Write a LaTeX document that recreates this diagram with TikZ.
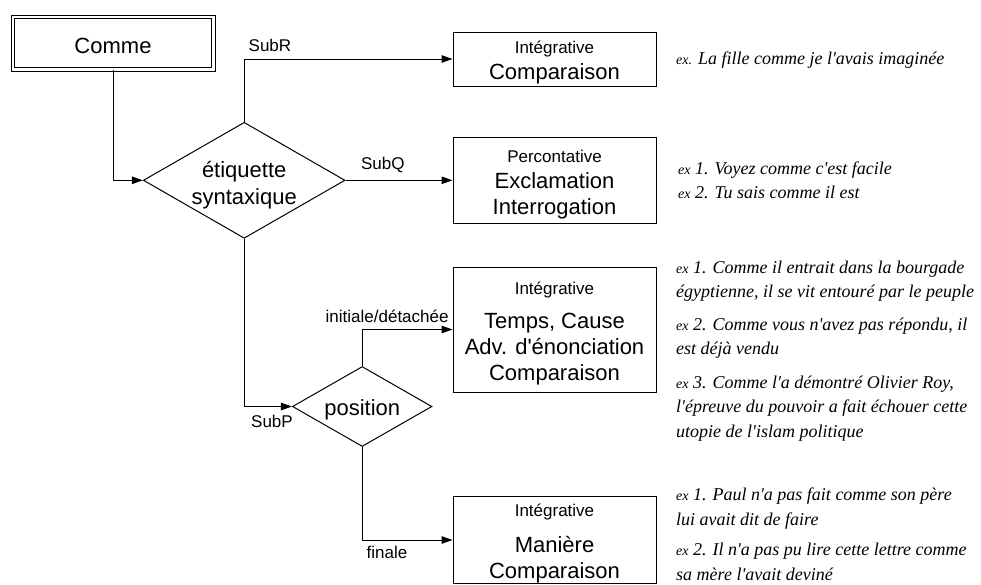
\documentclass[tikz,border=0pt]{standalone}
\usepackage{fontspec}
\setmainfont{Liberation Serif}[Ligatures=TeXOff]
\setsansfont{Liberation Sans}[Ligatures=TeXOff]
\usetikzlibrary{arrows.meta,positioning,shapes.geometric}
\newcommand{\haut}[1][20.3pt]{\rule{0pt}{#1}}
\newcommand{\exm}{\fontsize{14}{17}\selectfont}
\newcommand{\petit}{\fontsize{17}{20}\selectfont}
\tikzset{
  boite/.style={draw,line width=1pt,minimum width=203,inner sep=0pt,align=center,
    font=\sffamily\fontsize{22}{26}\selectfont},
  losange/.style={draw,line width=1pt,diamond,aspect=1.74,inner sep=-10pt,align=center,
    font=\sffamily\fontsize{22}{27}\selectfont},
  fleche/.style={line width=1pt,-{Triangle[length=11pt,width=7.5pt]}},
  lib/.style={inner sep=0pt,font=\sffamily\petit},
  exemple/.style={anchor=base west,inner sep=0pt,align=left,
    font=\itshape\fontsize{18}{24.5}\selectfont},
}

\begin{document}
\begin{tikzpicture}[x=1pt,y=-1pt]
  \useasboundingbox (0,0) rectangle (981,584);
  % arbre de decision
  \node[boite,double,double distance=2.6pt,minimum width=200.4,minimum height=52.4,
    text height=20.6pt,text depth=0pt] (comme) at (113,43) {Comme};
  \node[losange,minimum width=201.7,minimum height=116] (synt) at (244.2,180.3)
    {\haut[25pt]étiquette\\syntaxique};
  \node[losange,minimum width=139.5,minimum height=80] (pos) at (362.2,406.5)
    {\haut[23pt]position};
  \node[boite,minimum height=54] (compar) at (554.5,59)
    {\haut{\petit Intégrative}\\Comparaison};
  \node[boite,minimum height=86] (exclam) at (554.5,180.3)
    {\haut{\petit Percontative}\\Exclamation\\Interrogation};
  \node[boite,minimum height=125] (circ) at (554.5,329.5)
    {\haut{\petit Intégrative}\\[8.5pt]Temps, Cause\\Adv. d'énonciation\\Comparaison};
  \node[boite,minimum height=86] (mani) at (554.5,540)
    {\haut[19.5pt]{\petit Intégrative}\\[10pt]Manière\\Comparaison};

  \draw[fleche] (comme) |- (synt);
  \draw[fleche] (synt) |- node[lib,pos=0.5,above right=7.3pt and 4pt] {SubR} (compar);
  \draw[fleche] (synt) -- node[lib,pos=0,above right=7.3pt and 15pt] {SubQ} (exclam);
  \draw[fleche] (synt) |- node[lib,pos=0.5,below right=8.5pt and 6.5pt] {SubP} (pos);
  \draw[fleche] (pos) |- node[lib,pos=0.5,above right=6pt and -37pt] {initiale/détachée} (circ);
  \draw[fleche] (pos) |- node[lib,pos=0.5,below right=5.5pt and 4pt] {finale} (mani);

  % exemples (ancre sur la ligne de base de la derniere ligne)
  \node[exemple] (exA) at (676,64.3) {{\exm ex.} La fille comme je l'avais imaginée};
  \node[exemple] (exB) at (678,198.5)
    {{\exm ex} 1. Voyez comme c'est facile\\{\exm ex} 2. Tu sais comme il est};
  \node[exemple] (exC1) at (676,297.5)
    {{\exm ex} 1. Comme il entrait dans la bourgade\\égyptienne, il se vit entouré par le peuple};
  \node[exemple] (exC2) at (676,354.5)
    {{\exm ex} 2. Comme vous n'avez pas répondu, il\\est déjà vendu};
  \node[exemple] (exC3) at (676,437)
    {{\exm ex} 3. Comme l'a démontré Olivier Roy,\\l'épreuve du pouvoir a fait échouer cette\\utopie de l'islam politique};
  \node[exemple] (exD1) at (676,525.2)
    {{\exm ex} 1. Paul n'a pas fait comme son père\\lui avait dit de faire};
  \node[exemple] (exD2) at (676,580.2)
    {{\exm ex} 2. Il n'a pas pu lire cette lettre comme\\sa mère l'avait deviné};
\end{tikzpicture}
\end{document}
